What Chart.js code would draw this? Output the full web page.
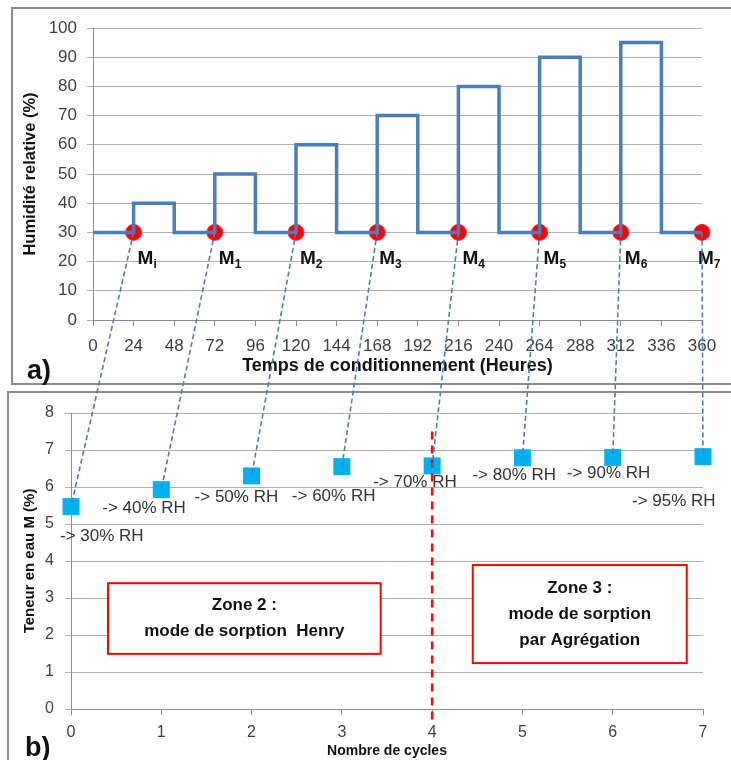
<!DOCTYPE html>
<html>
<head>
<meta charset="utf-8">
<script src="https://cdn.jsdelivr.net/npm/chart.js@4.4.1/dist/chart.umd.min.js"></script>
<style>
  body { margin: 0; background: #fff; }
  #wrap { position: relative; width: 731px; height: 760px; overflow: hidden; font-family: "Liberation Sans", Arial, sans-serif; }
  .frame { position: absolute; border: 2px solid #8c8c8c; }
  canvas { position: absolute; left: 0; }
  .tag { position: absolute; font-weight: bold; font-size: 27px; color: #111; }
</style>
</head>
<body>
<div id="wrap">
  <div class="frame" style="left:11px;top:7px;width:760px;height:374px"></div>
  <div class="frame" style="left:7px;top:391px;width:760px;height:420px"></div>
  <canvas id="rhChart" width="731" height="385" style="top:0"></canvas>
  <canvas id="cycleChart" width="731" height="375" style="top:385px"></canvas>
  <canvas id="links" width="731" height="760" style="top:0"></canvas>
  <div class="tag" style="left:27px;top:355px">a)</div>
  <div class="tag" style="left:25px;top:732px">b)</div>
</div>
<script>
// (a) humidity profile: level held from each hour mark to the next
const hours = [0, 24, 48, 72, 96, 120, 144, 168, 192, 216, 240, 264, 288, 312, 336, 360];
const rhLevels = [30, 40, 30, 50, 30, 60, 30, 70, 30, 80, 30, 90, 30, 95, 30, 30];

// measurement points M
const measureHours = [24, 72, 120, 168, 216, 264, 312, 360];
const measureRH = [30, 30, 30, 30, 30, 30, 30, 30];
const measureNames = ["i", "1", "2", "3", "4", "5", "6", "7"];

// (b) water content per cycle
const cycles = [0, 1, 2, 3, 4, 5, 6, 7];
const moisture = [5.47, 5.93, 6.3, 6.55, 6.57, 6.79, 6.8, 6.82];
const rhTargets = ["-> 30% RH", "-> 40% RH", "-> 50% RH", "-> 60% RH",
  "-> 70% RH", "-> 80% RH", "-> 90% RH", "-> 95% RH"];

// label placement (pixels from the marker)
const mLabelShift = [4, 4, 4, 2, 4, 4, 4, -4];
const rhLabelShift = [[-11, 30], [-59, 19], [-57, 21], [-50, 30], [-59, 16], [-50, 18], [-46, 16], [-71, 45]];

const FONT = "'Liberation Sans', Arial, sans-serif";
const gridColor = "#b0b0b0";
const axisColor = "#8c8c8c";
const tickColor = "#404040";

const mLabels = {
  id: "mLabels",
  afterDatasetsDraw(chart) {
    const ctx = chart.ctx;
    const xs = chart.scales.x, ys = chart.scales.y;
    ctx.save();
    ctx.fillStyle = "#111";
    ctx.textBaseline = "middle";
    ctx.textAlign = "left";
    measureHours.forEach((h, i) => {
      const px = xs.getPixelForValue(h) + mLabelShift[i];
      const py = ys.getPixelForValue(measureRH[i]) + 26;
      ctx.font = "bold 19px " + FONT;
      ctx.fillText("M", px, py);
      const w = ctx.measureText("M").width;
      ctx.font = "bold 12px " + FONT;
      ctx.fillText(measureNames[i], px + w, py + 6);
    });
    ctx.restore();
  }
};

const rhChart = new Chart(document.getElementById("rhChart"), {
  type: "line",
  data: {
    datasets: [{
      data: hours.map((h, i) => ({ x: h, y: rhLevels[i] })),
      stepped: true,
      borderColor: "#4a7ebb",
      borderWidth: 3.5,
      pointRadius: 0,
      clip: false
    }, {
      data: measureHours.map((h, i) => ({ x: h, y: measureRH[i] })),
      showLine: false,
      pointRadius: 8,
      pointBackgroundColor: "#ff0000",
      pointBorderColor: "#e0304a",
      pointBorderWidth: 1,
      clip: false
    }]
  },
  options: {
    responsive: false,
    animation: false,
    layout: { padding: { left: 0, right: 29, top: 28, bottom: 0 } },
    plugins: { legend: { display: false }, tooltip: { enabled: false } },
    scales: {
      x: {
        type: "linear",
        min: 0, max: 360,
        afterFit: s => { s.height = 65; },
        ticks: { stepSize: 24, color: tickColor, font: { size: 17, family: FONT }, padding: 10, maxRotation: 0 },
        grid: { drawOnChartArea: false, color: axisColor, tickLength: 6 },
        border: { color: axisColor },
        title: { display: true, text: "Temps de conditionnement (Heures)", color: "#111",
          font: { size: 18, weight: "bold", family: FONT }, padding: { top: 0, bottom: 8 } }
      },
      y: {
        min: 0, max: 100,
        afterFit: s => { s.width = 93; },
        ticks: { stepSize: 10, color: tickColor, font: { size: 17, family: FONT }, padding: 10 },
        grid: { color: gridColor, tickLength: 6 },
        border: { color: axisColor },
        title: { display: true, text: "Humidité relative (%)", color: "#111",
          font: { size: 16.5, weight: "bold", family: FONT }, padding: { top: 21, bottom: 0 } }
      }
    }
  },
  plugins: [mLabels]
});

const zonesAndNotes = {
  id: "zonesAndNotes",
  beforeDatasetsDraw(chart) {
    const ctx = chart.ctx;
    const xs = chart.scales.x, ys = chart.scales.y;
    const boxes = [
      { x0: 0.41, x1: 3.43, y0: 3.4, y1: 1.49, lines: ["Zone 2 :", "mode de sorption  Henry"] },
      { x0: 4.45, x1: 6.82, y0: 3.89, y1: 1.24, lines: ["Zone 3 :", "mode de sorption", "par Agrégation"] }
    ];
    ctx.save();
    boxes.forEach(b => {
      const l = xs.getPixelForValue(b.x0), r = xs.getPixelForValue(b.x1);
      const t = ys.getPixelForValue(b.y0), bt = ys.getPixelForValue(b.y1);
      ctx.fillStyle = "#fff";
      ctx.fillRect(l, t, r - l, bt - t);
      ctx.strokeStyle = "#ff0000";
      ctx.lineWidth = 2;
      ctx.strokeRect(l, t, r - l, bt - t);
      ctx.fillStyle = "#111";
      ctx.font = "bold 17px " + FONT;
      ctx.textAlign = "center";
      ctx.textBaseline = "middle";
      const cx = (l + r) / 2, cy = (t + bt) / 2, lh = 26;
      b.lines.forEach((s, k) => {
        ctx.fillText(s, cx, cy + (k - (b.lines.length - 1) / 2) * lh);
      });
    });
    ctx.restore();
  },
  afterDatasetsDraw(chart) {
    const ctx = chart.ctx;
    const xs = chart.scales.x, ys = chart.scales.y;
    ctx.save();
    ctx.fillStyle = "#333";
    ctx.font = "17px " + FONT;
    ctx.textAlign = "left";
    ctx.textBaseline = "middle";
    cycles.forEach((c, i) => {
      const px = xs.getPixelForValue(c), py = ys.getPixelForValue(moisture[i]);
      ctx.fillText(rhTargets[i], px + rhLabelShift[i][0], py + rhLabelShift[i][1]);
    });
    // limit between the two sorption zones
    ctx.strokeStyle = "#ff0000";
    ctx.lineWidth = 2.5;
    ctx.setLineDash([8, 6]);
    ctx.beginPath();
    ctx.moveTo(xs.getPixelForValue(4), ys.getPixelForValue(7.5));
    ctx.lineTo(xs.getPixelForValue(4), ys.getPixelForValue(-0.3));
    ctx.stroke();
    ctx.restore();
  }
};

const cycleChart = new Chart(document.getElementById("cycleChart"), {
  type: "scatter",
  data: {
    datasets: [{
      data: cycles.map((c, i) => ({ x: c, y: moisture[i] })),
      pointStyle: "rect",
      pointRadius: 12,
      pointBackgroundColor: "#00b0f0",
      pointBorderColor: "#00b0f0",
      pointBorderWidth: 0,
      clip: false
    }]
  },
  options: {
    responsive: false,
    animation: false,
    layout: { padding: { left: 0, right: 28, top: 28, bottom: 0 } },
    plugins: { legend: { display: false }, tooltip: { enabled: false } },
    scales: {
      x: {
        type: "linear",
        min: 0, max: 7,
        afterFit: s => { s.height = 51; },
        ticks: { stepSize: 1, color: tickColor, font: { size: 16, family: FONT }, padding: 8, maxRotation: 0 },
        grid: { drawOnChartArea: false, color: axisColor, tickLength: 6 },
        border: { color: axisColor },
        title: { display: true, text: "Nombre de cycles", color: "#111",
          font: { size: 14, weight: "bold", family: FONT }, padding: { top: 0, bottom: 0 } }
      },
      y: {
        min: 0, max: 8,
        afterFit: s => { s.width = 71; },
        ticks: { stepSize: 1, color: tickColor, font: { size: 16, family: FONT }, padding: 11 },
        grid: { color: gridColor, tickLength: 6 },
        border: { color: axisColor },
        title: { display: true, text: "Teneur en eau M (%)", color: "#111",
          font: { size: 15, weight: "bold", family: FONT }, padding: { top: 21, bottom: 0 } }
      }
    }
  },
  plugins: [zonesAndNotes]
});

// dashed links from each M point to its cycle marker
const topOffset = 0, bottomOffset = 385;
const lctx = document.getElementById("links").getContext("2d");
lctx.strokeStyle = "#4a7ebb";
lctx.lineWidth = 1.6;
lctx.setLineDash([5, 3]);
measureHours.forEach((h, i) => {
  lctx.beginPath();
  lctx.moveTo(rhChart.scales.x.getPixelForValue(h), rhChart.scales.y.getPixelForValue(measureRH[i]) + topOffset);
  lctx.lineTo(cycleChart.scales.x.getPixelForValue(cycles[i]), cycleChart.scales.y.getPixelForValue(moisture[i]) + bottomOffset);
  lctx.stroke();
});
</script>
</body>
</html>
